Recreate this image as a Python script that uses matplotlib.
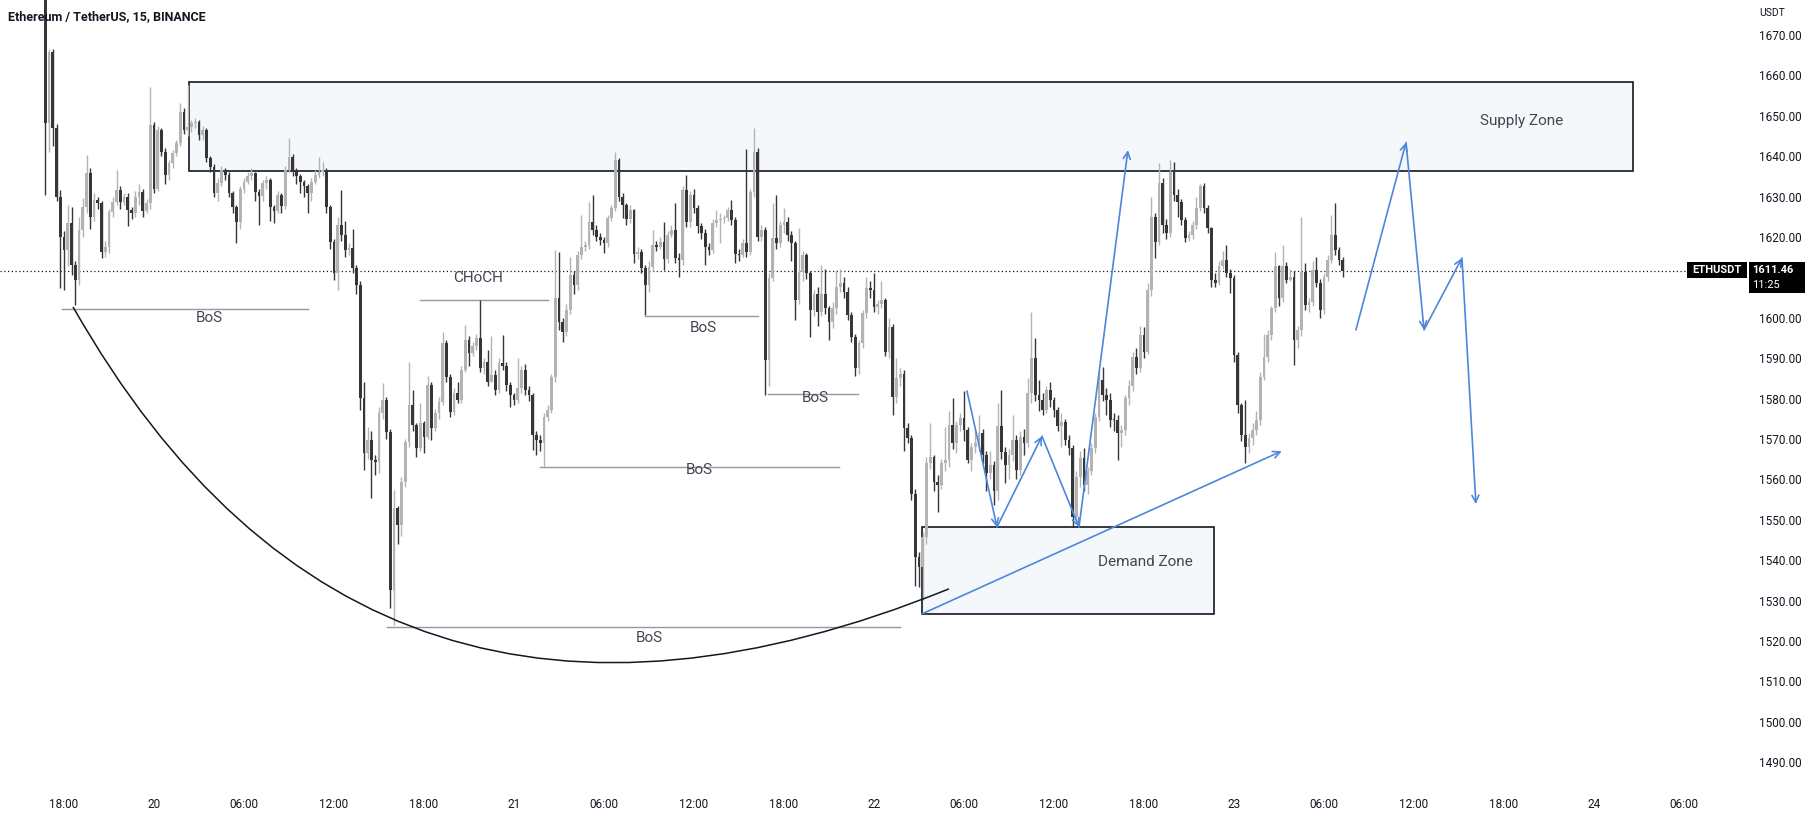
import numpy as np
import matplotlib
matplotlib.use("Agg")
import matplotlib.pyplot as plt
from matplotlib.patches import Rectangle, PathPatch
from matplotlib.path import Path

# 15 minute ETHUSDT candles, first one at 19th 16:45 (hours counted from 19th 00:00)
start_hour = 16.75
bar_hours = 0.25
first_open = 1684.0

closes = [
    1648.3, 1665.9, 1647.1, 1630.0, 1620.1, 1616.8, 1623.4, 1613.1, 1609.4, 1621.7,
    1627.5, 1635.8, 1625.0, 1629.2, 1628.5, 1616.4, 1617.6, 1626.3, 1628.7, 1631.6,
    1628.7, 1630.0, 1626.8, 1625.9, 1630.0, 1631.2, 1626.5, 1628.3, 1647.7, 1632.0,
    1646.6, 1641.1, 1635.4, 1638.2, 1640.7, 1643.2, 1651.0, 1646.5, 1647.3, 1648.1,
    1648.5, 1645.2, 1646.5, 1639.5, 1637.4, 1630.8, 1633.3, 1636.6, 1635.4, 1631.0,
    1627.5, 1623.8, 1632.0, 1633.7, 1635.0, 1635.8, 1631.2, 1630.1, 1633.3, 1634.0,
    1627.5, 1626.5, 1630.5, 1627.7, 1636.6, 1639.9, 1636.6, 1635.0, 1633.7, 1632.5,
    1630.8, 1633.7, 1635.3, 1636.2, 1636.6, 1627.3, 1618.8, 1611.0, 1623.0, 1620.5,
    1616.8, 1617.2, 1612.2, 1608.1, 1580.1, 1566.6, 1569.8, 1564.8, 1564.2, 1576.4,
    1579.7, 1571.8, 1532.6, 1552.8, 1548.7, 1559.4, 1569.3, 1578.4, 1573.5, 1567.7,
    1573.9, 1570.6, 1583.4, 1572.6, 1576.4, 1579.2, 1593.7, 1585.4, 1576.8, 1581.3,
    1579.7, 1587.1, 1594.5, 1591.2, 1592.9, 1594.9, 1587.5, 1589.1, 1584.2, 1585.8,
    1582.1, 1588.7, 1588.0, 1583.4, 1580.9, 1579.6, 1582.5, 1587.1, 1582.1, 1580.9,
    1571.0, 1569.8, 1569.0, 1575.5, 1577.2, 1585.4, 1604.8, 1599.0, 1596.6, 1602.0,
    1610.6, 1608.1, 1615.5, 1617.6, 1618.0, 1623.8, 1621.7, 1620.1, 1619.3, 1618.4,
    1624.6, 1627.1, 1639.1, 1630.0, 1627.9, 1624.4, 1626.7, 1615.9, 1616.4, 1612.2,
    1608.1, 1612.6, 1618.0, 1617.6, 1618.8, 1614.5, 1620.5, 1621.7, 1614.7, 1614.3,
    1631.6, 1623.8, 1630.4, 1627.1, 1622.6, 1620.9, 1617.6, 1616.8, 1623.4, 1624.2,
    1624.4, 1624.6, 1626.7, 1624.2, 1615.9, 1615.5, 1618.4, 1616.4, 1631.2, 1641.1,
    1620.1, 1621.7, 1589.5, 1609.8, 1619.7, 1618.4, 1623.0, 1623.8, 1620.5, 1618.4,
    1604.4, 1611.4, 1615.5, 1611.0, 1602.0, 1606.0, 1601.5, 1606.0, 1602.3, 1599.0,
    1602.3, 1607.7, 1608.5, 1606.5, 1600.7, 1595.3, 1587.5, 1593.7, 1601.1, 1607.3,
    1606.9, 1602.7, 1603.5, 1604.4, 1591.6, 1597.8, 1580.5, 1585.0, 1586.2, 1572.6,
    1570.2, 1556.5, 1540.9, 1538.4, 1545.8, 1564.0, 1565.6, 1559.4, 1558.6, 1564.0,
    1564.8, 1573.5, 1569.0, 1573.5, 1575.1, 1572.2, 1564.8, 1568.1, 1568.9, 1571.4,
    1566.0, 1561.5, 1563.6, 1557.0, 1573.1, 1566.9, 1563.6, 1566.1, 1569.7, 1562.3,
    1570.6, 1569.0, 1581.3, 1590.0, 1580.9, 1579.6, 1577.2, 1582.1, 1579.6, 1577.2,
    1573.1, 1574.3, 1569.7, 1567.7, 1550.8, 1560.7, 1565.2, 1558.6, 1562.0, 1567.7,
    1575.5, 1584.6, 1580.9, 1579.7, 1574.7, 1574.6, 1571.4, 1572.2, 1580.1, 1583.0,
    1590.4, 1587.5, 1595.7, 1591.6, 1606.9, 1625.0, 1618.8, 1633.3, 1623.0, 1620.9,
    1636.2, 1630.4, 1628.7, 1624.2, 1619.7, 1620.5, 1623.0, 1627.1, 1632.5, 1627.1,
    1622.1, 1609.4, 1608.6, 1612.7, 1614.3, 1611.0, 1609.8, 1590.8, 1578.4, 1571.0,
    1568.1, 1570.2, 1572.2, 1574.7, 1585.4, 1590.4, 1595.7, 1602.3, 1612.7, 1604.8,
    1612.7, 1609.4, 1610.2, 1594.5, 1597.0, 1611.4, 1603.2, 1604.0, 1611.8, 1608.6,
    1601.9, 1610.2, 1614.3, 1620.5, 1616.8, 1614.3, 1611.5,
]

highs = [
    1690.0, 1666.5, 1666.5, 1648.0, 1631.6, 1621.5, 1627.9, 1627.5, 1614.0, 1625.0,
    1629.6, 1640.3, 1637.0, 1631.0, 1630.0, 1629.0, 1619.0, 1627.0, 1630.0, 1636.6,
    1632.5, 1631.0, 1631.0, 1627.5, 1631.5, 1633.0, 1632.0, 1629.5, 1657.2, 1648.5,
    1647.5, 1647.0, 1642.0, 1639.0, 1641.5, 1644.0, 1653.2, 1652.0, 1657.6, 1649.0,
    1649.5, 1649.0, 1647.5, 1647.0, 1640.0, 1638.0, 1634.5, 1637.5, 1637.0, 1636.0,
    1631.5, 1628.0, 1632.5, 1634.5, 1636.0, 1637.0, 1636.0, 1632.0, 1634.0, 1635.0,
    1634.5, 1628.0, 1631.5, 1631.0, 1637.5, 1644.5, 1640.5, 1637.0, 1635.5, 1634.0,
    1633.0, 1634.5, 1636.5, 1639.9, 1638.5, 1637.0, 1628.0, 1619.5, 1625.0, 1631.6,
    1624.0, 1618.5, 1622.0, 1613.0, 1609.0, 1584.0, 1573.0, 1572.0, 1566.0, 1578.0,
    1583.8, 1580.5, 1572.5, 1557.4, 1553.5, 1560.5, 1570.0, 1589.1, 1582.1, 1574.0,
    1578.8, 1574.5, 1585.5, 1584.0, 1577.5, 1580.5, 1596.6, 1594.5, 1586.0, 1582.5,
    1584.0, 1588.0, 1598.2, 1595.5, 1594.0, 1596.0, 1604.4, 1590.0, 1592.0, 1595.5,
    1587.0, 1590.0, 1595.7, 1589.0, 1584.0, 1581.5, 1590.0, 1588.0, 1588.5, 1583.0,
    1581.5, 1572.0, 1571.0, 1576.5, 1578.5, 1586.0, 1616.8, 1616.4, 1600.0, 1603.5,
    1615.1, 1611.5, 1616.5, 1625.4, 1619.0, 1628.7, 1630.4, 1623.0, 1621.0, 1620.0,
    1625.5, 1628.0, 1641.1, 1639.5, 1631.0, 1628.5, 1628.0, 1627.0, 1617.5, 1617.0,
    1613.0, 1614.0, 1621.7, 1619.0, 1620.0, 1623.8, 1621.5, 1623.0, 1628.3, 1616.0,
    1632.5, 1635.3, 1631.5, 1632.0, 1628.0, 1623.5, 1622.0, 1618.5, 1624.5, 1626.7,
    1625.9, 1625.5, 1627.5, 1629.2, 1625.0, 1617.0, 1619.5, 1641.9, 1632.0, 1646.9,
    1642.0, 1623.0, 1622.5, 1611.0, 1628.3, 1630.4, 1624.0, 1627.1, 1625.0, 1621.5,
    1619.0, 1622.1, 1616.5, 1616.0, 1611.5, 1607.0, 1607.5, 1613.0, 1612.0, 1603.0,
    1604.0, 1611.8, 1612.0, 1610.0, 1607.5, 1601.5, 1596.0, 1594.5, 1602.0, 1610.2,
    1609.0, 1611.0, 1604.5, 1609.0, 1605.0, 1600.0, 1598.5, 1590.0, 1587.5, 1587.0,
    1574.0, 1571.0, 1557.5, 1542.0, 1547.0, 1565.6, 1573.9, 1566.0, 1561.0, 1565.0,
    1573.0, 1577.0, 1580.1, 1574.5, 1576.5, 1581.9, 1573.0, 1569.0, 1572.5, 1576.0,
    1572.5, 1567.0, 1567.0, 1564.5, 1579.0, 1582.1, 1568.0, 1567.5, 1576.0, 1571.0,
    1572.0, 1572.5, 1585.0, 1601.5, 1595.0, 1584.5, 1581.5, 1583.0, 1584.0, 1580.5,
    1578.0, 1576.5, 1575.0, 1571.0, 1568.5, 1562.0, 1567.0, 1567.7, 1563.0, 1569.0,
    1576.5, 1587.0, 1587.9, 1582.5, 1581.5, 1576.5, 1576.0, 1573.5, 1581.0, 1584.5,
    1591.5, 1592.5, 1598.0, 1597.8, 1608.5, 1630.0, 1626.0, 1638.2, 1634.5, 1624.5,
    1639.1, 1638.5, 1632.0, 1629.5, 1625.0, 1621.5, 1624.0, 1630.0, 1633.0, 1633.3,
    1628.0, 1622.5, 1611.0, 1614.0, 1616.5, 1618.0, 1612.0, 1610.5, 1591.5, 1579.0,
    1579.7, 1571.5, 1574.0, 1577.0, 1586.5, 1596.0, 1597.0, 1603.0, 1616.4, 1613.0,
    1618.0, 1613.9, 1612.0, 1611.5, 1598.0, 1625.0, 1613.5, 1605.0, 1614.0, 1615.1,
    1609.5, 1611.0, 1615.5, 1625.5, 1628.3, 1617.5, 1615.0,
]

lows = [
    1630.4, 1641.1, 1642.4, 1629.0, 1607.3, 1606.9, 1612.7, 1610.6, 1603.2, 1608.0,
    1620.0, 1626.0, 1622.0, 1624.0, 1627.0, 1614.7, 1615.0, 1616.0, 1625.0, 1628.0,
    1627.0, 1628.0, 1622.6, 1624.5, 1625.0, 1628.0, 1625.0, 1626.0, 1627.0, 1631.0,
    1631.5, 1640.0, 1633.0, 1634.0, 1637.0, 1640.0, 1642.5, 1645.5, 1645.0, 1646.0,
    1647.0, 1644.0, 1644.0, 1638.5, 1636.0, 1630.0, 1629.0, 1632.5, 1634.0, 1630.0,
    1626.0, 1618.4, 1622.0, 1631.0, 1633.0, 1634.0, 1629.0, 1623.0, 1629.0, 1632.0,
    1624.0, 1623.5, 1626.0, 1626.0, 1627.0, 1636.0, 1635.0, 1633.0, 1631.0, 1630.0,
    1625.9, 1629.0, 1633.0, 1634.5, 1635.0, 1626.0, 1617.0, 1609.4, 1606.9, 1619.0,
    1615.0, 1615.5, 1611.0, 1606.0, 1577.2, 1562.3, 1565.0, 1555.3, 1561.0, 1561.5,
    1575.0, 1570.0, 1528.1, 1524.0, 1544.0, 1546.0, 1558.0, 1568.0, 1572.0, 1565.5,
    1567.0, 1566.5, 1570.0, 1569.7, 1572.0, 1575.0, 1578.5, 1584.0, 1575.5, 1576.0,
    1579.0, 1579.0, 1586.5, 1588.0, 1590.5, 1592.0, 1586.5, 1586.0, 1583.0, 1584.0,
    1581.0, 1581.5, 1587.0, 1582.0, 1578.0, 1578.5, 1579.0, 1581.5, 1581.0, 1579.5,
    1567.3, 1566.0, 1567.0, 1563.2, 1574.5, 1576.5, 1584.0, 1597.0, 1594.0, 1595.5,
    1601.0, 1606.0, 1607.0, 1614.5, 1616.5, 1617.0, 1620.5, 1619.0, 1618.0, 1616.0,
    1617.5, 1624.0, 1626.5, 1629.0, 1624.6, 1623.0, 1623.5, 1613.5, 1614.5, 1611.0,
    1600.7, 1606.5, 1611.5, 1616.5, 1617.0, 1611.8, 1613.5, 1620.0, 1613.5, 1610.2,
    1613.0, 1622.5, 1622.5, 1626.0, 1621.0, 1619.5, 1613.1, 1615.5, 1616.0, 1622.5,
    1618.4, 1623.5, 1624.0, 1623.0, 1613.5, 1614.0, 1615.0, 1615.0, 1615.5, 1630.0,
    1619.0, 1619.0, 1580.9, 1583.0, 1609.0, 1617.0, 1617.5, 1621.0, 1619.0, 1614.0,
    1599.5, 1603.5, 1609.0, 1609.5, 1595.3, 1600.5, 1598.0, 1600.5, 1601.0, 1594.4,
    1597.5, 1601.0, 1606.5, 1605.0, 1599.5, 1594.0, 1585.6, 1586.0, 1592.5, 1600.0,
    1605.0, 1601.5, 1601.0, 1602.5, 1590.5, 1590.0, 1576.0, 1579.0, 1583.0, 1567.0,
    1569.0, 1555.0, 1533.5, 1533.4, 1530.1, 1544.0, 1562.5, 1557.0, 1552.0, 1557.5,
    1562.0, 1563.0, 1567.5, 1566.5, 1572.0, 1569.5, 1564.0, 1562.0, 1566.5, 1567.0,
    1564.0, 1557.0, 1560.0, 1553.7, 1555.0, 1565.0, 1559.0, 1560.0, 1564.5, 1560.0,
    1561.0, 1566.0, 1568.0, 1579.0, 1579.5, 1577.0, 1576.0, 1576.5, 1578.0, 1575.5,
    1572.0, 1568.0, 1568.5, 1566.0, 1548.3, 1549.5, 1558.0, 1557.0, 1556.5, 1561.0,
    1566.5, 1574.5, 1579.5, 1576.0, 1573.0, 1572.0, 1564.8, 1568.0, 1571.0, 1578.5,
    1582.0, 1586.0, 1586.5, 1590.0, 1591.0, 1605.5, 1614.8, 1618.0, 1621.0, 1619.5,
    1620.0, 1629.0, 1625.0, 1623.0, 1618.7, 1619.0, 1619.5, 1622.0, 1626.5, 1626.0,
    1621.0, 1607.5, 1607.5, 1608.0, 1612.0, 1610.0, 1606.1, 1589.0, 1576.5, 1569.5,
    1564.0, 1566.5, 1568.5, 1571.0, 1573.5, 1584.5, 1589.0, 1594.5, 1601.5, 1603.0,
    1604.0, 1608.5, 1609.0, 1588.3, 1592.5, 1595.5, 1602.0, 1601.5, 1603.0, 1607.5,
    1599.9, 1601.0, 1609.0, 1613.5, 1615.5, 1613.0, 1610.2,
]

last_price = 1611.46

time_ticks = [18 + 6 * k for k in range(19)]
time_labels = ["18:00", "20", "06:00", "12:00", "18:00", "21", "06:00", "12:00", "18:00", "22",
               "06:00", "12:00", "18:00", "23", "06:00", "12:00", "18:00", "24", "06:00"]
price_ticks = [1670, 1660, 1650, 1640, 1630, 1620, 1600, 1590, 1580, 1570, 1560, 1550,
               1540, 1530, 1520, 1510, 1500, 1490]

W, H = 1814, 818
plt.rcParams["font.family"] = ["Roboto", "DejaVu Sans"]
fig = plt.figure(figsize=(W / 100, H / 100), dpi=100)
ax = fig.add_axes([0, 33 / H, 1748 / W, 785 / H])

hours = start_hour + bar_hours * np.arange(len(closes))
c = np.array(closes)
o = np.concatenate([[first_open], c[:-1]])
hi = np.maximum(np.array(highs), np.maximum(o, c))
lo = np.minimum(np.array(lows), np.minimum(o, c))
up = c >= o
col = np.where(up, "#b3b3b3", "#363636")

ax.vlines(hours, lo, hi, colors=col, linewidth=1.0, zorder=3)
body = np.maximum(np.abs(c - o), 0.3)
ax.bar(hours, body, bottom=np.minimum(o, c), width=0.19, color=col, linewidth=0, zorder=4)

# zones
ax.add_patch(Rectangle((26.33, 1636.3), 122.6 - 26.33, 1658.4 - 1636.3,
                       facecolor="#f5f8fb", edgecolor="#131722", linewidth=1.2, zorder=1))
ax.add_patch(Rectangle((75.2, 1526.6), 94.67 - 75.2, 1548.2 - 1526.6,
                       facecolor="#f5f8fb", edgecolor="#131722", linewidth=1.2, zorder=1))
ax.text(115.2, 1648.7, "Supply Zone", fontsize=11, color="#434651", ha="center", va="center", zorder=6)
ax.text(90.07, 1539.6, "Demand Zone", fontsize=11, color="#434651", ha="center", va="center", zorder=6)

# structure lines
levels = [
    (17.87, 34.27, 1602.2, "BoS", 27.67, 1599.9),
    (41.73, 50.27, 1604.4, "CHoCH", 45.6, 1609.8),
    (56.73, 64.27, 1600.4, "BoS", 60.6, 1597.5),
    (64.93, 70.93, 1581.1, "BoS", 68.07, 1580.1),
    (49.73, 69.67, 1563.0, "BoS", 60.33, 1562.3),
    (39.53, 73.73, 1523.5, "BoS", 57.0, 1520.7),
]
for x0, x1, p, lab, tx, ty in levels:
    ax.plot([x0, x1], [p, p], color="#9598a1", linewidth=1.0, zorder=2)
    ax.text(tx, ty, lab, fontsize=11, color="#434651", ha="center", va="center", zorder=6)

# rounded bottom curve
curve = Path([(18.6, 1602.7), (38.2, 1474.5), (77.0, 1532.9)],
             [Path.MOVETO, Path.CURVE3, Path.CURVE3])
ax.add_patch(PathPatch(curve, facecolor="none", edgecolor="#131722", linewidth=1.1, zorder=5))

# current price line
ax.axhline(last_price, xmax=(1687 / 1748), color="#131722", linewidth=0.9,
           linestyle=(0, (1, 2)), zorder=2)

blue = "#4f86dd"


def arrows(pts):
    for (x0, y0), (x1, y1) in zip(pts[:-1], pts[1:]):
        ax.annotate("", xy=(x1, y1), xytext=(x0, y0),
                    arrowprops=dict(arrowstyle="->,head_length=0.5,head_width=0.25",
                                    color=blue, linewidth=1.2, shrinkA=0, shrinkB=0),
                    zorder=7)


arrows([(78.2, 1581.9), (80.2, 1548.2), (83.2, 1570.7), (85.67, 1548.2), (88.93, 1641.5)])
arrows([(75.2, 1526.7), (99.18, 1567.0)])
arrows([(104.13, 1597.0), (107.47, 1643.4), (108.67, 1597.0), (111.2, 1614.8), (112.13, 1553.9)])

ax.set_xlim(13.733, 130.27)
ax.set_ylim(1484.35, 1678.66)
for s in ax.spines.values():
    s.set_visible(False)
ax.yaxis.tick_right()
ax.set_yticks(price_ticks)
ax.set_yticklabels(["%.2f" % v for v in price_ticks])
ax.set_xticks(time_ticks)
ax.set_xticklabels(time_labels)
ax.tick_params(axis="y", length=0, pad=8, labelsize=8.5, labelcolor="#131722")
ax.tick_params(axis="x", length=0, pad=9, labelsize=8.5, labelcolor="#131722")


def px(x, y):
    return x / W, 1 - y / H


fig.text(*px(8, 17), "Ethereum / TetherUS, 15, BINANCE", fontsize=9, fontweight="bold",
         color="#131722", ha="left", va="center")
fig.text(*px(1759, 13), "USDT", fontsize=7.5, color="#131722", ha="left", va="center")

fig.add_artist(Rectangle(px(1687, 278), 60 / W, 16 / H, transform=fig.transFigure,
                         facecolor="#000000", edgecolor="none"))
fig.text(*px(1717, 270), "ETHUSDT", fontsize=8, fontweight="bold", color="white",
         ha="center", va="center")
fig.add_artist(Rectangle(px(1749, 293), 56 / W, 31 / H, transform=fig.transFigure,
                         facecolor="#000000", edgecolor="none"))
fig.text(*px(1752, 270), "%.2f" % last_price, fontsize=8, fontweight="bold", color="white",
         ha="left", va="center")
fig.text(*px(1752, 285), "11:25", fontsize=8, color="white", ha="left", va="center")

fig.savefig("out.png", dpi=100)
